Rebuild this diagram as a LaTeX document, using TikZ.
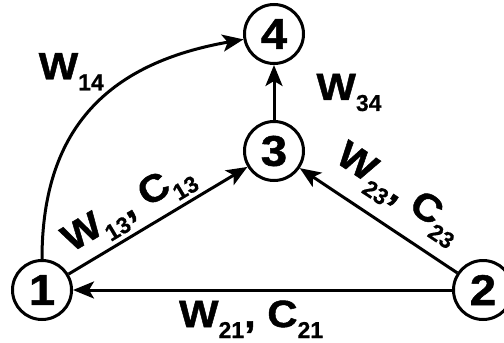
\documentclass[tikz,border=0pt]{standalone}
\usepackage{fontspec}
\setmainfont{Liberation Sans}
\newfontfamily\widefont{Liberation Sans}[FakeStretch=1.1, FakeBold=1.2]
\newfontfamily\subfont{Liberation Sans}[FakeBold=0.6]
\usetikzlibrary{positioning,arrows.meta}
\newcommand{\wsub}[2]{{\widefont\bfseries #1}\raisebox{-11pt}{\subfont\bfseries\fontsize{23}{23}\selectfont #2}}

\begin{document}
\begin{tikzpicture}[x=1pt, y=-1pt,
  vtx/.style={circle, draw, line width=3pt, minimum size=59pt, inner sep=0pt,
    font=\widefont\bfseries\fontsize{43}{43}\selectfont},
  arc/.style={draw, line width=3pt, -{Stealth[length=21pt,width=17pt,inset=5pt]}},
  lbl/.style={inner sep=0pt, font=\widefont\bfseries\fontsize{38}{38}\selectfont}
]
\useasboundingbox (0,0) rectangle (504,343);

\node[vtx] (n1) at (42,290) {1};
\node[vtx] (n2) at (483,290) {2};
\node[vtx] (n3) at (274,151) {3};
\node[vtx] (n4) at (274,34) {4};

\draw[arc] (n1) to[out=90, in=190, looseness=1.15]
  node[lbl, pos=.5, xshift=-22pt, yshift=36pt] {\wsub{W}{14}} (n4);
\draw[arc] (n3) -- node[lbl, right=41pt] {\wsub{W}{34}} (n4);
\draw[arc] (n1) -- node[lbl, sloped, pos=.41, above=4pt] {\wsub{W}{13}, \wsub{C}{13}} (n3);
\draw[arc] (n2) -- node[lbl, sloped, pos=.49, above=12pt] {\wsub{W}{23}, \wsub{C}{23}} (n3);
\draw[arc] (n2) -- node[lbl, pos=.53, below=9pt] {\wsub{W}{21}, \wsub{C}{21}} (n1);

\end{tikzpicture}
\end{document}
